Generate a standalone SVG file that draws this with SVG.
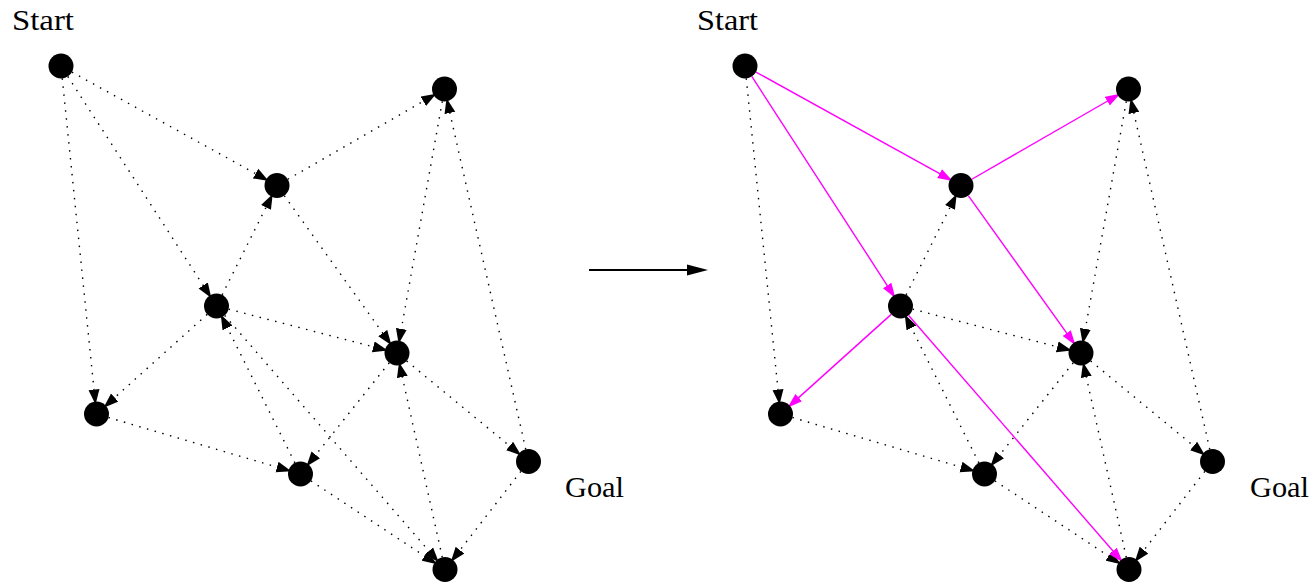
<svg xmlns="http://www.w3.org/2000/svg" width="1314" height="585" viewBox="0 0 1314 585">
<style>
.lbl{font-family:"Liberation Serif","Times New Roman",serif;font-size:30px;fill:#000}
.node circle{fill:#000}
.dot{fill:none;stroke:#000;stroke-width:1.4;stroke-dasharray:1.5 6.5;marker-end:url(#ahb)}
.mag{fill:none;stroke:#ff00ff;stroke-width:1.4;marker-end:url(#ahm)}
</style>
<defs>
<marker id="ahb" markerUnits="userSpaceOnUse" viewBox="0 0 16 12" markerWidth="16" markerHeight="12" refX="12" refY="6" orient="auto"><path d="M0,0.5 L15,6 L0,11.5 z" fill="#000"/></marker>
<marker id="ahm" markerUnits="userSpaceOnUse" viewBox="0 0 16 12" markerWidth="16" markerHeight="12" refX="12" refY="6" orient="auto"><path d="M0,1 L15,6 L0,11 z" fill="#ff00ff"/></marker>
</defs>
<rect width="1314" height="585" fill="#fff"/>

<g id="left-graph">
<g id="left-edges">
<line class="dot" x1="71.94" y1="72.05" x2="266.06" y2="179.45"/>
<line class="dot" x1="67.80" y1="76.49" x2="209.70" y2="295.51"/>
<line class="dot" x1="62.27" y1="78.44" x2="95.23" y2="401.56"/>
<line class="dot" x1="287.83" y1="179.26" x2="433.67" y2="95.24"/>
<line class="dot" x1="222.11" y1="294.83" x2="271.39" y2="196.67"/>
<line class="dot" x1="284.28" y1="195.66" x2="389.72" y2="342.84"/>
<line class="dot" x1="207.21" y1="314.36" x2="105.79" y2="405.64"/>
<line class="dot" x1="228.60" y1="309.15" x2="384.90" y2="349.85"/>
<line class="dot" x1="442.29" y1="101.30" x2="399.21" y2="340.70"/>
<line class="dot" x1="525.75" y1="449.31" x2="447.25" y2="101.19"/>
<line class="dot" x1="108.49" y1="417.53" x2="288.51" y2="470.47"/>
<line class="dot" x1="294.91" y1="462.82" x2="222.09" y2="317.18"/>
<line class="dot" x1="224.69" y1="315.44" x2="436.81" y2="560.06"/>
<line class="dot" x1="389.21" y1="362.77" x2="308.29" y2="464.23"/>
<line class="dot" x1="406.64" y1="360.96" x2="518.86" y2="453.54"/>
<line class="dot" x1="442.29" y1="557.30" x2="399.71" y2="365.20"/>
<line class="dot" x1="310.93" y1="480.89" x2="434.57" y2="562.61"/>
<line class="dot" x1="520.85" y1="471.39" x2="452.65" y2="559.61"/>
</g>
<g id="l-A" class="node"><circle cx="61" cy="66" r="12.5"/></g>
<g id="l-B" class="node"><circle cx="444.5" cy="89" r="12.5"/></g>
<g id="l-C" class="node"><circle cx="277" cy="185.5" r="12.5"/></g>
<g id="l-D" class="node"><circle cx="216.5" cy="306" r="12.5"/></g>
<g id="l-E" class="node"><circle cx="397" cy="353" r="12.5"/></g>
<g id="l-F" class="node"><circle cx="96.5" cy="414" r="12.5"/></g>
<g id="l-G" class="node"><circle cx="300.5" cy="474" r="12.5"/></g>
<g id="l-H" class="node"><circle cx="528.5" cy="461.5" r="12.5"/></g>
<g id="l-I" class="node"><circle cx="445" cy="569.5" r="12.5"/></g>
<text class="lbl" x="12" y="30" textLength="62" lengthAdjust="spacingAndGlyphs">Start</text>
<text class="lbl" x="565" y="497" textLength="59" lengthAdjust="spacingAndGlyphs">Goal</text>
</g>

<g id="transition">
<line x1="589" y1="270" x2="690" y2="270" stroke="#000" stroke-width="2"/>
<polygon points="687,264.5 708,270 687,275.5" fill="#000"/>
</g>

<g id="right-graph" transform="translate(684,0)">
<g id="right-edges">
<line class="dot" x1="62.27" y1="78.44" x2="95.23" y2="401.56"/>
<line class="dot" x1="222.11" y1="294.83" x2="271.39" y2="196.67"/>
<line class="dot" x1="228.60" y1="309.15" x2="384.90" y2="349.85"/>
<line class="dot" x1="442.29" y1="101.30" x2="399.21" y2="340.70"/>
<line class="dot" x1="525.75" y1="449.31" x2="447.25" y2="101.19"/>
<line class="dot" x1="108.49" y1="417.53" x2="288.51" y2="470.47"/>
<line class="dot" x1="294.91" y1="462.82" x2="222.09" y2="317.18"/>
<line class="dot" x1="389.21" y1="362.77" x2="308.29" y2="464.23"/>
<line class="dot" x1="406.64" y1="360.96" x2="518.86" y2="453.54"/>
<line class="dot" x1="442.29" y1="557.30" x2="399.71" y2="365.20"/>
<line class="dot" x1="310.93" y1="480.89" x2="434.57" y2="562.61"/>
<line class="dot" x1="520.85" y1="471.39" x2="452.65" y2="559.61"/>
<line class="mag" x1="71.94" y1="72.05" x2="266.06" y2="179.45"/>
<line class="mag" x1="67.80" y1="76.49" x2="209.70" y2="295.51"/>
<line class="mag" x1="287.83" y1="179.26" x2="433.67" y2="95.24"/>
<line class="mag" x1="284.28" y1="195.66" x2="389.72" y2="342.84"/>
<line class="mag" x1="207.21" y1="314.36" x2="105.79" y2="405.64"/>
<line class="mag" x1="224.69" y1="315.44" x2="436.81" y2="560.06"/>
</g>
<g id="r-A" class="node"><circle cx="61" cy="66" r="12.5"/></g>
<g id="r-B" class="node"><circle cx="444.5" cy="89" r="12.5"/></g>
<g id="r-C" class="node"><circle cx="277" cy="185.5" r="12.5"/></g>
<g id="r-D" class="node"><circle cx="216.5" cy="306" r="12.5"/></g>
<g id="r-E" class="node"><circle cx="397" cy="353" r="12.5"/></g>
<g id="r-F" class="node"><circle cx="96.5" cy="414" r="12.5"/></g>
<g id="r-G" class="node"><circle cx="300.5" cy="474" r="12.5"/></g>
<g id="r-H" class="node"><circle cx="528.5" cy="461.5" r="12.5"/></g>
<g id="r-I" class="node"><circle cx="445" cy="569.5" r="12.5"/></g>
<text class="lbl" x="13" y="30" textLength="61" lengthAdjust="spacingAndGlyphs">Start</text>
<text class="lbl" x="566" y="497" textLength="59" lengthAdjust="spacingAndGlyphs">Goal</text>
</g>
</svg>
